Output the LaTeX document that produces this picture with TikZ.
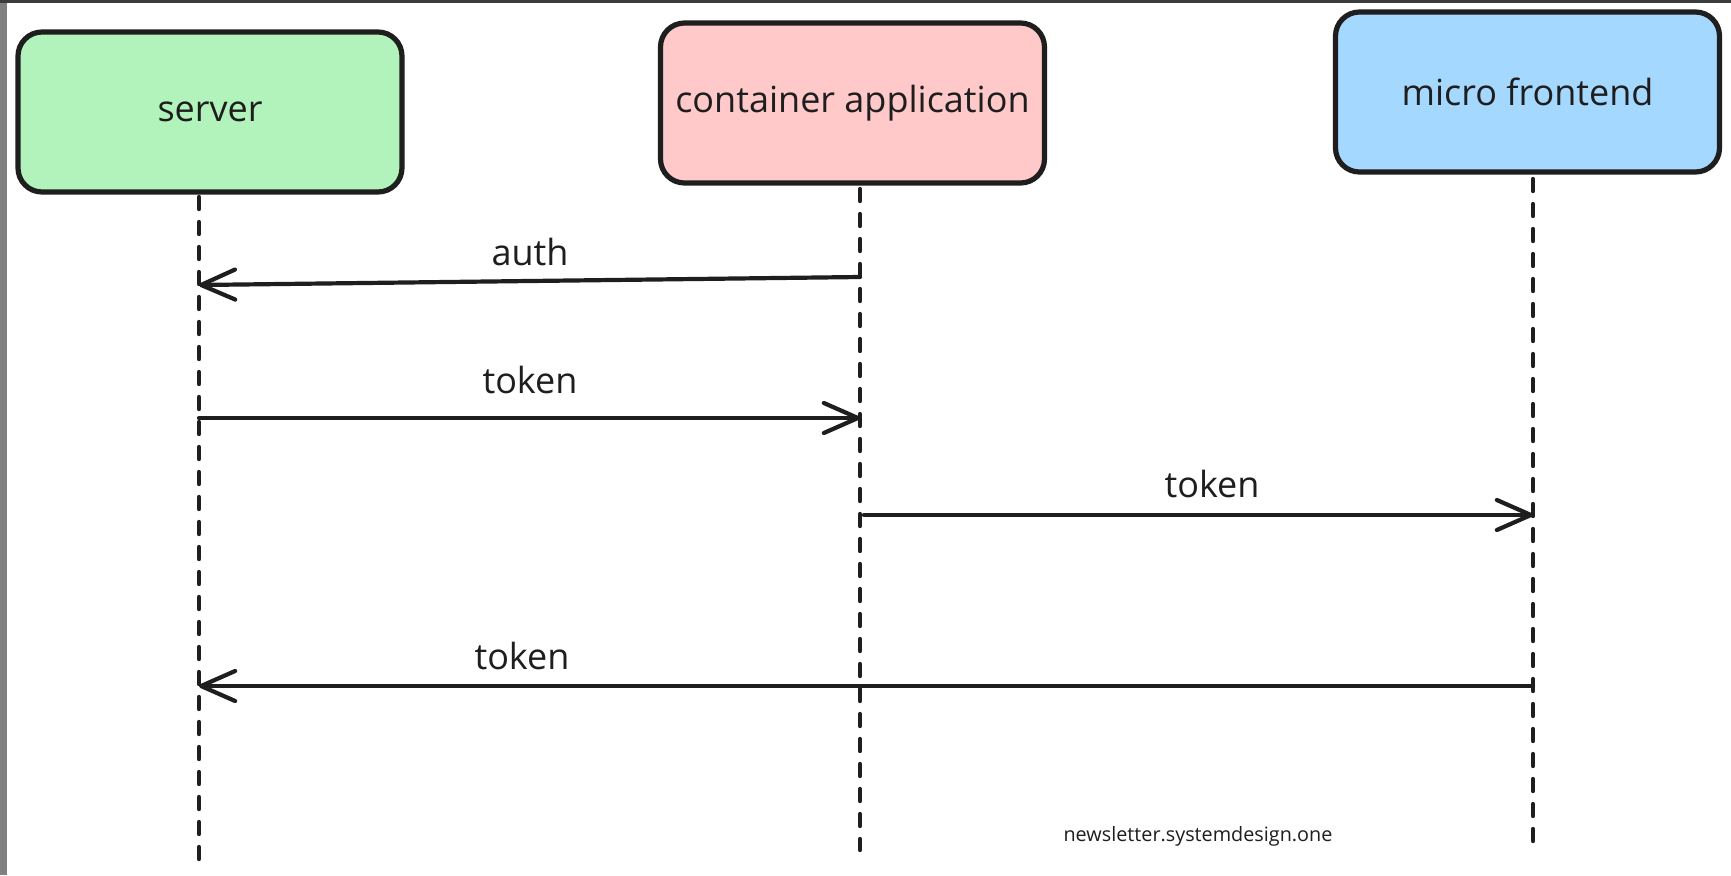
\documentclass[tikz,border=0pt]{standalone}
\usepackage{fontspec}
\setmainfont{Open Sans}
\usetikzlibrary{arrows.meta}
\definecolor{ink}{HTML}{1E1E1E}
\definecolor{sgreen}{HTML}{B2F2BB}
\definecolor{spink}{HTML}{FFC9C9}
\definecolor{sblue}{HTML}{A5D8FF}
\definecolor{framedark}{HTML}{3C3C3C}
\definecolor{framegray}{HTML}{808080}
\tikzset{
  actor/.style={draw=ink, line width=2.6pt, rounded corners=12pt,
    minimum width=192pt, minimum height=80pt, text=ink,
    font=\fontsize{18}{21}\selectfont},
  lifeline/.style={draw=ink, line width=2.2pt, dash pattern=on 6pt off 6.5pt, line cap=round},
  msg/.style={draw=ink, line width=2.1pt, line cap=round,
    -{Straight Barb[length=17pt,width=15pt,round]}},
  msglabel/.style={text=ink, font=\fontsize{18}{21}\selectfont, inner sep=0pt},
  footer/.style={text=ink, font=\fontsize{9.9}{12}\selectfont, inner sep=0pt}
}
\begin{document}
\begin{tikzpicture}[x=0.5pt,y=-0.5pt]
\useasboundingbox (0,0) rectangle (1731,875);
\fill[white] (0,0) rectangle (1731,875);
\fill[framegray] (0,0) rectangle (7,875);
\fill[framedark] (0,0) rectangle (1731,3);

% actors
\node[actor, fill=sgreen] (server) at (210,112) {server};
\node[actor, fill=spink] (container) at (852.5,103) {container application};
\node[actor, fill=sblue] (micro) at (1527.5,92) {micro frontend};

% lifelines
\coordinate (sTop) at (199,197);
\coordinate (sBot) at (199,859);
\coordinate (cTop) at (860,189);
\coordinate (cBot) at (860,850);
\coordinate (mTop) at (1533,179);
\coordinate (mBot) at (1533,846);
\draw[lifeline] (sTop) -- (sBot);
\draw[lifeline] (cTop) -- (cBot);
\draw[lifeline] (mTop) -- (mBot);

% message end points
\coordinate (authFrom) at (860,277);
\coordinate (authTo) at (199,285);
\coordinate (tok1From) at (199,418);
\coordinate (tok1To) at (860,418);
\coordinate (tok2From) at (864,515);
\coordinate (tok2To) at (1533,515);
\coordinate (tok3From) at (1533,686);
\coordinate (tok3To) at (199,686);

\draw[msg] (authFrom) -- (authTo);
\draw[msg] (tok1From) -- (tok1To);
\draw[msg] (tok2From) -- (tok2To);
\draw[msg] (tok3From) -- (tok3To);

% labels
\node[msglabel] (authLbl) at (530,252) {auth};
\node[msglabel] (tok1Lbl) at (530,380) {token};
\node[msglabel] (tok2Lbl) at (1212,484) {token};
\node[msglabel] (tok3Lbl) at (522,656) {token};

\node[footer] (foot) at (1198,836) {newsletter.systemdesign.one};
\end{tikzpicture}
\end{document}
